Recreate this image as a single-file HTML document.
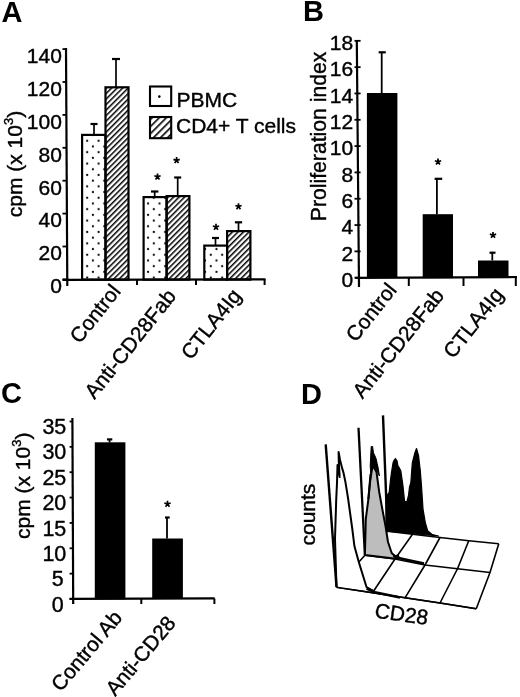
<!DOCTYPE html>
<html><head><meta charset="utf-8"><title>Figure</title>
<style>html,body{margin:0;padding:0;background:#fff;}svg{display:block;filter:grayscale(1);}</style>
</head><body>
<svg width="520" height="697" viewBox="0 0 520 697" font-family='"Liberation Sans", sans-serif'>
<style>text{stroke:#000;stroke-width:0.4px;} text[font-weight=bold]{stroke:none;}</style>
<defs>
<pattern id="dots" patternUnits="userSpaceOnUse" x="87.2" y="140.8" width="11.4" height="11.4">
<circle cx="0" cy="0" r="1.1" fill="#000"/><circle cx="11.4" cy="0" r="1.1" fill="#000"/><circle cx="0" cy="11.4" r="1.1" fill="#000"/><circle cx="11.4" cy="11.4" r="1.1" fill="#000"/><circle cx="5.7" cy="5.7" r="1.1" fill="#000"/>
</pattern>
<pattern id="dots2" patternUnits="userSpaceOnUse" x="85.4" y="140.8" width="11.4" height="11.4">
<circle cx="0" cy="0" r="1.1" fill="#000"/><circle cx="11.4" cy="0" r="1.1" fill="#000"/><circle cx="0" cy="11.4" r="1.1" fill="#000"/><circle cx="11.4" cy="11.4" r="1.1" fill="#000"/><circle cx="5.7" cy="5.7" r="1.1" fill="#000"/>
</pattern>
<pattern id="hatch" patternUnits="userSpaceOnUse" width="3.9" height="3.9" patternTransform="rotate(45)">
<rect x="0" y="0" width="1.5" height="3.9" fill="#000"/>
</pattern>
<pattern id="hatchL" patternUnits="userSpaceOnUse" width="5.0" height="5.0" patternTransform="rotate(45)">
<rect x="0" y="0" width="1.6" height="5.0" fill="#000"/>
</pattern>
</defs>
<rect width="520" height="697" fill="#fff"/>
<text x="1.60" y="21.80" font-size="29" text-anchor="start" font-weight="bold" >A</text>
<text x="303.10" y="21.20" font-size="29" text-anchor="start" font-weight="bold" >B</text>
<text x="0.94" y="403.40" font-size="29" text-anchor="start" font-weight="bold" >C</text>
<text x="301.10" y="404.00" font-size="29" text-anchor="start" font-weight="bold" >D</text>
<line x1="66.00" y1="48.00" x2="67.30" y2="286.00" stroke="#000" stroke-width="2.2" />
<line x1="62.50" y1="279.90" x2="265.50" y2="279.40" stroke="#000" stroke-width="2.2" />
<line x1="62.50" y1="279.40" x2="67.00" y2="279.40" stroke="#000" stroke-width="1.8" />
<text x="61.90" y="293.20" font-size="21" text-anchor="end" font-weight="normal" >0</text>
<line x1="62.50" y1="246.50" x2="67.00" y2="246.50" stroke="#000" stroke-width="1.8" />
<text x="61.90" y="260.30" font-size="21" text-anchor="end" font-weight="normal" >20</text>
<line x1="62.50" y1="213.60" x2="67.00" y2="213.60" stroke="#000" stroke-width="1.8" />
<text x="61.90" y="227.40" font-size="21" text-anchor="end" font-weight="normal" >40</text>
<line x1="62.50" y1="180.70" x2="67.00" y2="180.70" stroke="#000" stroke-width="1.8" />
<text x="61.90" y="194.50" font-size="21" text-anchor="end" font-weight="normal" >60</text>
<line x1="62.50" y1="147.80" x2="67.00" y2="147.80" stroke="#000" stroke-width="1.8" />
<text x="61.90" y="161.60" font-size="21" text-anchor="end" font-weight="normal" >80</text>
<line x1="62.50" y1="114.90" x2="67.00" y2="114.90" stroke="#000" stroke-width="1.8" />
<text x="61.90" y="128.70" font-size="21" text-anchor="end" font-weight="normal" >100</text>
<line x1="62.50" y1="82.00" x2="67.00" y2="82.00" stroke="#000" stroke-width="1.8" />
<text x="61.90" y="95.80" font-size="21" text-anchor="end" font-weight="normal" >120</text>
<line x1="62.50" y1="49.10" x2="67.00" y2="49.10" stroke="#000" stroke-width="1.8" />
<text x="61.90" y="62.90" font-size="21" text-anchor="end" font-weight="normal" >140</text>
<line x1="137.00" y1="279.00" x2="137.00" y2="285.00" stroke="#000" stroke-width="2" />
<line x1="196.00" y1="279.00" x2="196.00" y2="285.00" stroke="#000" stroke-width="2" />
<line x1="264.60" y1="279.00" x2="264.60" y2="285.00" stroke="#000" stroke-width="2" />
<rect x="82.10" y="134.90" width="23.40" height="144.70" fill="url(#dots)" stroke="#000" stroke-width="2.2"/>
<rect x="105.50" y="87.30" width="23.00" height="192.30" fill="url(#hatch)" stroke="#000" stroke-width="2.2"/>
<rect x="143.60" y="197.10" width="23.00" height="82.50" fill="url(#dots2)" stroke="#000" stroke-width="2.2"/>
<rect x="166.60" y="196.10" width="22.80" height="83.50" fill="url(#hatch)" stroke="#000" stroke-width="2.2"/>
<rect x="204.30" y="245.60" width="22.80" height="34.00" fill="url(#dots2)" stroke="#000" stroke-width="2.2"/>
<rect x="227.10" y="231.10" width="23.30" height="48.50" fill="url(#hatch)" stroke="#000" stroke-width="2.2"/>
<line x1="94.00" y1="134.50" x2="94.00" y2="124.00" stroke="#000" stroke-width="1.7" />
<line x1="90.50" y1="124.00" x2="97.50" y2="124.00" stroke="#000" stroke-width="2.2" />
<line x1="116.00" y1="87.00" x2="116.00" y2="59.00" stroke="#000" stroke-width="1.7" />
<line x1="112.00" y1="59.00" x2="120.00" y2="59.00" stroke="#000" stroke-width="2.2" />
<line x1="154.70" y1="196.50" x2="154.70" y2="191.50" stroke="#000" stroke-width="1.7" />
<line x1="151.00" y1="191.50" x2="158.40" y2="191.50" stroke="#000" stroke-width="2.2" />
<line x1="177.70" y1="195.50" x2="177.70" y2="177.50" stroke="#000" stroke-width="1.7" />
<line x1="174.20" y1="177.50" x2="181.20" y2="177.50" stroke="#000" stroke-width="2.2" />
<line x1="215.50" y1="245.00" x2="215.50" y2="238.00" stroke="#000" stroke-width="1.7" />
<line x1="212.00" y1="238.00" x2="219.00" y2="238.00" stroke="#000" stroke-width="2.2" />
<line x1="238.50" y1="230.50" x2="238.50" y2="222.30" stroke="#000" stroke-width="1.7" />
<line x1="234.90" y1="222.30" x2="242.10" y2="222.30" stroke="#000" stroke-width="2.2" />
<path d="M157.50,176.80L157.50,173.50M157.50,176.80L160.64,175.78M157.50,176.80L159.44,179.47M157.50,176.80L155.56,179.47M157.50,176.80L154.36,175.78" stroke="#000" stroke-width="1.7" stroke-linecap="butt"/>
<path d="M176.60,160.40L176.60,157.10M176.60,160.40L179.74,159.38M176.60,160.40L178.54,163.07M176.60,160.40L174.66,163.07M176.60,160.40L173.46,159.38" stroke="#000" stroke-width="1.7" stroke-linecap="butt"/>
<path d="M216.00,227.00L216.00,223.70M216.00,227.00L219.14,225.98M216.00,227.00L217.94,229.67M216.00,227.00L214.06,229.67M216.00,227.00L212.86,225.98" stroke="#000" stroke-width="1.7" stroke-linecap="butt"/>
<path d="M238.50,206.50L238.50,203.20M238.50,206.50L241.64,205.48M238.50,206.50L240.44,209.17M238.50,206.50L236.56,209.17M238.50,206.50L235.36,205.48" stroke="#000" stroke-width="1.7" stroke-linecap="butt"/>
<rect x="150" y="86.5" width="21.2" height="19.5" fill="#fff" stroke="#000" stroke-width="2.1"/>
<circle cx="159.3" cy="96.6" r="1.3" fill="#000"/>
<rect x="150" y="117" width="21.2" height="21.2" fill="url(#hatchL)" stroke="#000" stroke-width="2.1"/>
<text x="176.40" y="106.70" font-size="21" text-anchor="start" font-weight="normal" >PBMC</text>
<text x="176.00" y="133.00" font-size="21" text-anchor="start" font-weight="normal" >CD4+ T cells</text>
<text transform="translate(21.5,217.3) rotate(-90)" font-size="21">cpm (x 10<tspan font-size="13" dy="-9">3</tspan><tspan dy="9">)</tspan></text>
<text x="121.70" y="291.70" font-size="20.9" text-anchor="end" font-weight="normal" transform="rotate(-51.5 121.70 291.70)" >Control</text>
<text x="177.00" y="296.50" font-size="20.9" text-anchor="end" font-weight="normal" transform="rotate(-51.5 177.00 296.50)" >Anti-CD28Fab</text>
<text x="242.30" y="296.20" font-size="20.9" text-anchor="end" font-weight="normal" transform="rotate(-51.5 242.30 296.20)" >CTLA4Ig</text>
<line x1="356.80" y1="40.00" x2="359.00" y2="287.00" stroke="#000" stroke-width="2.2" />
<line x1="355.20" y1="277.80" x2="517.00" y2="277.00" stroke="#000" stroke-width="2.2" />
<line x1="354.50" y1="277.70" x2="360.60" y2="277.70" stroke="#000" stroke-width="1.8" />
<text x="353.20" y="287.00" font-size="21" text-anchor="end" font-weight="normal" >0</text>
<line x1="354.50" y1="251.38" x2="360.60" y2="251.38" stroke="#000" stroke-width="1.8" />
<text x="353.20" y="260.68" font-size="21" text-anchor="end" font-weight="normal" >2</text>
<line x1="354.50" y1="225.06" x2="360.60" y2="225.06" stroke="#000" stroke-width="1.8" />
<text x="353.20" y="234.36" font-size="21" text-anchor="end" font-weight="normal" >4</text>
<line x1="354.50" y1="198.74" x2="360.60" y2="198.74" stroke="#000" stroke-width="1.8" />
<text x="353.20" y="208.04" font-size="21" text-anchor="end" font-weight="normal" >6</text>
<line x1="354.50" y1="172.42" x2="360.60" y2="172.42" stroke="#000" stroke-width="1.8" />
<text x="353.20" y="181.72" font-size="21" text-anchor="end" font-weight="normal" >8</text>
<line x1="354.50" y1="146.10" x2="360.60" y2="146.10" stroke="#000" stroke-width="1.8" />
<text x="353.20" y="155.40" font-size="21" text-anchor="end" font-weight="normal" >10</text>
<line x1="354.50" y1="119.78" x2="360.60" y2="119.78" stroke="#000" stroke-width="1.8" />
<text x="353.20" y="129.08" font-size="21" text-anchor="end" font-weight="normal" >12</text>
<line x1="354.50" y1="93.46" x2="360.60" y2="93.46" stroke="#000" stroke-width="1.8" />
<text x="353.20" y="102.76" font-size="21" text-anchor="end" font-weight="normal" >14</text>
<line x1="354.50" y1="67.14" x2="360.60" y2="67.14" stroke="#000" stroke-width="1.8" />
<text x="353.20" y="76.44" font-size="21" text-anchor="end" font-weight="normal" >16</text>
<line x1="354.50" y1="40.82" x2="360.60" y2="40.82" stroke="#000" stroke-width="1.8" />
<text x="353.20" y="50.12" font-size="21" text-anchor="end" font-weight="normal" >18</text>
<line x1="408.80" y1="277.00" x2="408.80" y2="286.00" stroke="#000" stroke-width="2" />
<line x1="463.50" y1="277.00" x2="463.50" y2="286.00" stroke="#000" stroke-width="2" />
<line x1="515.80" y1="277.00" x2="515.80" y2="286.00" stroke="#000" stroke-width="2" />
<rect x="366.9" y="93" width="30.5" height="185" fill="#000"/>
<rect x="422.7" y="214.2" width="30.3" height="64" fill="#000"/>
<rect x="478" y="260.5" width="30.5" height="17.5" fill="#000"/>
<line x1="381.70" y1="93.00" x2="381.70" y2="52.30" stroke="#000" stroke-width="1.8" />
<line x1="378.60" y1="52.30" x2="385.80" y2="52.30" stroke="#000" stroke-width="2.2" />
<line x1="436.90" y1="214.50" x2="436.90" y2="178.80" stroke="#000" stroke-width="1.8" />
<line x1="434.60" y1="178.80" x2="442.20" y2="178.80" stroke="#000" stroke-width="2.2" />
<line x1="492.30" y1="260.50" x2="492.30" y2="252.70" stroke="#000" stroke-width="1.8" />
<line x1="489.50" y1="252.70" x2="495.50" y2="252.70" stroke="#000" stroke-width="2.2" />
<path d="M438.00,161.80L438.00,158.50M438.00,161.80L441.14,160.78M438.00,161.80L439.94,164.47M438.00,161.80L436.06,164.47M438.00,161.80L434.86,160.78" stroke="#000" stroke-width="1.7" stroke-linecap="butt"/>
<path d="M493.00,235.20L493.00,231.90M493.00,235.20L496.14,234.18M493.00,235.20L494.94,237.87M493.00,235.20L491.06,237.87M493.00,235.20L489.86,234.18" stroke="#000" stroke-width="1.7" stroke-linecap="butt"/>
<text transform="translate(325.8,221.2) rotate(-90)" font-size="21.2">Proliferation index</text>
<text x="397.70" y="290.30" font-size="20.9" text-anchor="end" font-weight="normal" transform="rotate(-51.5 397.70 290.30)" >Control</text>
<text x="445.00" y="295.80" font-size="20.9" text-anchor="end" font-weight="normal" transform="rotate(-51.5 445.00 295.80)" >Anti-CD28Fab</text>
<text x="504.60" y="295.00" font-size="20.9" text-anchor="end" font-weight="normal" transform="rotate(-51.5 504.60 295.00)" >CTLA4Ig</text>
<line x1="72.40" y1="418.00" x2="73.20" y2="604.00" stroke="#000" stroke-width="2.2" />
<line x1="69.50" y1="598.80" x2="214.60" y2="598.40" stroke="#000" stroke-width="2.2" />
<line x1="69.60" y1="599.00" x2="72.60" y2="599.00" stroke="#000" stroke-width="1.8" />
<text x="63.80" y="611.60" font-size="21.5" text-anchor="end" font-weight="normal" >0</text>
<line x1="69.60" y1="573.64" x2="72.60" y2="573.64" stroke="#000" stroke-width="1.8" />
<text x="63.80" y="586.24" font-size="21.5" text-anchor="end" font-weight="normal" >5</text>
<line x1="69.60" y1="548.28" x2="72.60" y2="548.28" stroke="#000" stroke-width="1.8" />
<text x="66.30" y="560.88" font-size="21.5" text-anchor="end" font-weight="normal" >10</text>
<line x1="69.60" y1="522.92" x2="72.60" y2="522.92" stroke="#000" stroke-width="1.8" />
<text x="66.30" y="535.52" font-size="21.5" text-anchor="end" font-weight="normal" >15</text>
<line x1="69.60" y1="497.56" x2="72.60" y2="497.56" stroke="#000" stroke-width="1.8" />
<text x="66.30" y="510.16" font-size="21.5" text-anchor="end" font-weight="normal" >20</text>
<line x1="69.60" y1="472.20" x2="72.60" y2="472.20" stroke="#000" stroke-width="1.8" />
<text x="66.30" y="484.80" font-size="21.5" text-anchor="end" font-weight="normal" >25</text>
<line x1="69.60" y1="446.84" x2="72.60" y2="446.84" stroke="#000" stroke-width="1.8" />
<text x="66.30" y="459.44" font-size="21.5" text-anchor="end" font-weight="normal" >30</text>
<line x1="69.60" y1="421.48" x2="72.60" y2="421.48" stroke="#000" stroke-width="1.8" />
<text x="66.30" y="434.08" font-size="21.5" text-anchor="end" font-weight="normal" >35</text>
<line x1="141.30" y1="598.50" x2="141.30" y2="604.00" stroke="#000" stroke-width="2" />
<line x1="214.40" y1="598.50" x2="214.40" y2="604.00" stroke="#000" stroke-width="2" />
<rect x="94.8" y="442.3" width="30.6" height="157" fill="#000"/>
<rect x="152.2" y="538.5" width="30.7" height="60.5" fill="#000"/>
<line x1="109.60" y1="442.50" x2="109.60" y2="439.40" stroke="#000" stroke-width="1.8" />
<line x1="107.00" y1="439.40" x2="112.30" y2="439.40" stroke="#000" stroke-width="2.2" />
<line x1="167.00" y1="538.50" x2="167.00" y2="517.50" stroke="#000" stroke-width="1.8" />
<line x1="165.00" y1="517.50" x2="169.70" y2="517.50" stroke="#000" stroke-width="2.2" />
<path d="M167.50,504.00L167.50,500.70M167.50,504.00L170.64,502.98M167.50,504.00L169.44,506.67M167.50,504.00L165.56,506.67M167.50,504.00L164.36,502.98" stroke="#000" stroke-width="1.7" stroke-linecap="butt"/>
<text transform="translate(30,539) rotate(-90)" font-size="21">cpm (x 10<tspan font-size="13" dy="-9">3</tspan><tspan dy="9">)</tspan></text>
<text x="123.30" y="618.20" font-size="20.8" text-anchor="end" font-weight="normal" transform="rotate(-50 123.30 618.20)" >Control Ab</text>
<text x="176.80" y="623.60" font-size="20.8" text-anchor="end" font-weight="normal" transform="rotate(-50 176.80 623.60)" >Anti-CD28</text>
<polyline points="387.50,531.25 412.50,534.25 440.00,537.50 468.75,540.75 498.75,543.75" fill="none" stroke="#000" stroke-width="1.6" stroke-linejoin="round" />
<polyline points="364.90,555.20 395.00,559.00 425.00,565.00 457.50,568.75 490.00,572.50" fill="none" stroke="#000" stroke-width="1.6" stroke-linejoin="round" />
<polyline points="336.50,587.30 372.50,592.70 405.00,597.80 440.00,603.00 476.25,608.75" fill="none" stroke="#000" stroke-width="1.6" stroke-linejoin="round" />
<polyline points="387.50,531.25 364.90,555.20 336.50,587.30" fill="none" stroke="#000" stroke-width="1.6" stroke-linejoin="round" />
<polyline points="412.50,534.25 395.00,559.00 372.50,592.70" fill="none" stroke="#000" stroke-width="1.6" stroke-linejoin="round" />
<polyline points="440.00,537.50 425.00,565.00 405.00,597.80" fill="none" stroke="#000" stroke-width="1.6" stroke-linejoin="round" />
<polyline points="468.75,540.75 457.50,568.75 440.00,603.00" fill="none" stroke="#000" stroke-width="1.6" stroke-linejoin="round" />
<polyline points="498.75,543.75 490.00,572.50 476.25,608.75" fill="none" stroke="#000" stroke-width="1.6" stroke-linejoin="round" />
<polygon points="386.00,531.00 386.00,497.00 389.20,492.30 390.50,480.00 391.50,472.30 393.00,463.00 394.20,460.00 395.40,458.50 397.00,460.80 398.00,466.00 399.20,467.70 400.80,470.80 402.00,479.00 403.00,486.00 404.60,501.50 407.00,501.50 408.50,495.40 409.50,487.00 410.80,483.00 412.30,463.00 414.60,453.80 416.50,448.50 418.50,455.40 420.30,470.80 421.50,486.00 423.00,509.00 425.40,523.00 427.70,530.80 432.30,534.60 438.50,536.00 387.00,531.25" fill="#000" stroke="#000" stroke-width="1.2" stroke-linejoin="round" />
<line x1="383.00" y1="415.40" x2="387.50" y2="531.25" stroke="#000" stroke-width="2.4" />
<polygon points="364.90,555.00 365.80,519.00 368.40,499.00 370.20,481.00 372.00,468.70 373.80,467.00 376.50,472.00 379.20,492.00 382.80,511.70 385.50,526.00 388.00,542.00 391.70,553.00 398.00,559.00" fill="#bdbdbd" stroke="#000" stroke-width="2.0" stroke-linejoin="round" />
<polygon points="371.20,446.50 372.60,446.50 373.50,453.00 374.80,455.50 376.20,459.00 377.20,463.50 378.30,468.50 379.40,476.00 376.50,469.50 374.50,467.00 372.50,468.50 370.80,474.00 370.20,466.00 370.60,458.00" fill="#000" stroke="#000" stroke-width="1.0" stroke-linejoin="round" />
<polyline points="368.40,499.00 370.50,474.00" fill="none" stroke="#000" stroke-width="2.0" stroke-linejoin="round" />
<line x1="358.50" y1="427.70" x2="364.90" y2="555.20" stroke="#000" stroke-width="2.3" />
<polyline points="336.50,587.30 335.00,539.00 336.20,500.00 337.00,483.00 337.50,465.00 339.70,477.00 338.80,462.40 338.60,452.00 340.00,459.80 342.20,468.40 343.50,472.80 345.30,481.40 347.00,491.70 348.30,500.00 352.30,529.00 354.40,546.00 358.70,561.70 366.50,587.00 373.50,591.00" fill="#fff" stroke="#000" stroke-width="2.0" stroke-linejoin="round" />
<line x1="325.70" y1="444.30" x2="336.50" y2="586.80" stroke="#000" stroke-width="2.4" />
<polyline points="336.50,587.30 372.50,592.70 405.00,597.80 440.00,603.00 476.25,608.75" fill="none" stroke="#000" stroke-width="1.6" stroke-linejoin="round" />
<polyline points="366.50,588.50 375.00,592.30 400.00,597.40" fill="none" stroke="#000" stroke-width="2.6" stroke-linejoin="round" />
<polyline points="393.50,555.50 397.50,557.80 410.00,560.60 424.00,563.60" fill="none" stroke="#000" stroke-width="2.6" stroke-linejoin="round" />
<circle cx="397.3" cy="556.6" r="2.1" fill="#000"/>
<text transform="translate(315,545.5) rotate(-90)" font-size="21">counts</text>
<text x="374.00" y="617.50" font-size="21" text-anchor="start" font-weight="normal" transform="rotate(8 374.00 617.50)" >CD28</text>
</svg>
</body></html>
